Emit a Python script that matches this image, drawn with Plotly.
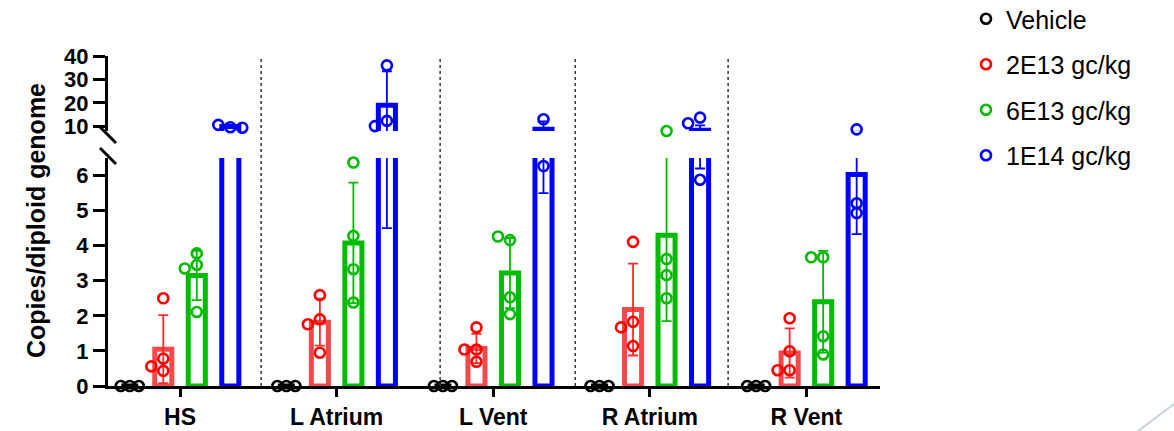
import plotly.graph_objects as go
import numpy as np

# ---------------- data ----------------
categories = ["HS", "L Atrium", "L Vent", "R Atrium", "R Vent"]
series_names = ["Vehicle", "2E13 gc/kg", "6E13 gc/kg", "1E14 gc/kg"]

vehicle_points = [[0, 0, 0], [0, 0, 0], [0, 0, 0], [0, 0, 0], [0, 0, 0]]
vehicle_mean = [0, 0, 0, 0, 0]
vehicle_sd = [0, 0, 0, 0, 0]

low_points = [[2.50, 0.78, 0.43, 0.56],
              [2.59, 1.90, 1.76, 0.95],
              [1.67, 1.04, 1.04, 0.69],
              [4.11, 1.83, 1.67, 1.14],
              [1.93, 0.99, 0.45, 0.45]]
low_mean = [1.05, 1.82, 1.07, 2.18, 0.94]
low_sd = [0.97, 0.67, 0.42, 1.31, 0.70]

mid_points = [[3.78, 3.45, 3.35, 2.11],
              [6.37, 4.28, 3.33, 2.38],
              [4.16, 4.26, 2.53, 2.05],
              [8.00, 3.62, 3.16, 2.50],
              [3.67, 3.67, 1.42, 0.90]]
mid_mean = [3.15, 4.08, 3.22, 4.30, 2.40]
mid_sd = [0.70, 1.72, 1.00, 2.45, 1.45]

high_points = [[9.6, 10.6, 9.4],
               [36.0, 12.3, 10.1],
               [13.0, 7.6, 6.27],
               [13.7, 11.3, 5.88],
               [8.7, 5.21, 4.93]]
high_mean = [9.9, 19.0, 8.8, 8.3, 6.03]
high_sd = [0.6, 14.5, 3.3, 2.1, 1.7]

lower_ticks = [0, 1, 2, 3, 4, 5, 6]
upper_ticks = [10, 20, 30, 40]
divider_x = [0.518, 1.661, 2.524, 3.50]

# ---------------- layout constants ----------------
W, H = 1174, 431
ML, MR, MT, MB = 108, 294, 56, 45
PW, PH = W - ML - MR, H - MT - MB
LOW_RANGE = [0, 6.5]
UP_RANGE = [8, 40]
X_RANGE = [-0.46, 4.47]
low_top_px = 158          # figure pixel of top of lower segment
up_bot_px = 131           # figure pixel of bottom of upper segment
low_dom = [0, (H - MB - low_top_px) / PH]
up_dom = [(H - MB - up_bot_px) / PH, 1]
slot = 0.214
bar_w = 0.109
xpx = PW / (X_RANGE[1] - X_RANGE[0])

styles = [
    dict(pt="#000000", bar="#000000", err="#000000"),
    dict(pt="#FF0000", bar="#F24A4A", err="#FF2A2A"),
    dict(pt="#00BB00", bar="#00BB00", err="#00BB00"),
    dict(pt="#0000FF", bar="#0000FF", err="#0000FF"),
]

pts_all = [vehicle_points, low_points, mid_points, high_points]
mean_all = [vehicle_mean, low_mean, mid_mean, high_mean]
sd_all = [vehicle_sd, low_sd, mid_sd, high_sd]


def to_px(v):
    low_h = low_dom[1] * PH
    if v <= LOW_RANGE[1]:
        return v / LOW_RANGE[1] * low_h
    up_b = up_dom[0] * PH
    up_h = (up_dom[1] - up_dom[0]) * PH
    return up_b + (v - UP_RANGE[0]) / (UP_RANGE[1] - UP_RANGE[0]) * up_h


def swarm(vals, diam=9.0, step=6.0):
    placed, offs = [], []
    for v in vals:
        y = to_px(v)
        chosen = 0
        for c in [0, -step, step, -2 * step, 2 * step]:
            if all((c - a) ** 2 + (y - b) ** 2 >= diam ** 2 for a, b in placed):
                chosen = c
                break
        placed.append((chosen, y))
        offs.append(chosen / xpx)
    return offs


fig = go.Figure()
idx = np.arange(len(categories))

for k, name in enumerate(series_names):
    st = styles[k]
    off = (k - 1.5) * slot
    xs = idx + off
    for ax in ["y", "y2"]:
        fig.add_trace(go.Bar(
            x=xs, y=mean_all[k], width=bar_w, xaxis="x", yaxis=ax,
            marker=dict(color="rgba(0,0,0,0)", line=dict(color=st["bar"], width=5)),
            error_y=dict(type="data", array=sd_all[k], color=st["err"],
                         thickness=1.8, width=5, visible=(k > 0)),
            showlegend=False, legendgroup=name, hoverinfo="skip"))
    lx, ly, ux, uy = [], [], [], []
    step = 4.5 if k == 0 else 6.0
    for i, vals in enumerate(pts_all[k]):
        offs = swarm(vals, step=step, diam=step * 1.5)
        for v, o in zip(vals, offs):
            if v <= LOW_RANGE[1]:
                lx.append(i + off + o); ly.append(v)
            else:
                ux.append(i + off + o); uy.append(v)
    mk = dict(symbol="circle-open", size=10, color=st["pt"], line=dict(width=2.6, color=st["pt"]))
    fig.add_trace(go.Scatter(x=lx, y=ly, mode="markers", marker=mk, name=name,
                             legendgroup=name, xaxis="x", yaxis="y", cliponaxis=False))
    fig.add_trace(go.Scatter(x=ux, y=uy, mode="markers", marker=mk, name=name,
                             legendgroup=name, showlegend=False, xaxis="x", yaxis="y2",
                             cliponaxis=False))

FONT = "Liberation Sans, Arial, sans-serif"
axis_common = dict(showline=True, linecolor="black", linewidth=3, ticks="outside",
                   ticklen=12, tickwidth=3, tickcolor="black", showgrid=False,
                   zeroline=False, tickfont=dict(family=FONT, size=22, color="black", weight="bold"))

fig.update_layout(
    width=W, height=H, margin=dict(l=ML, r=MR, t=MT, b=MB, autoexpand=False),
    paper_bgcolor="white", plot_bgcolor="white", barmode="overlay",
    xaxis=dict(range=X_RANGE, tickvals=list(idx), ticktext=categories, anchor="y",
               showline=True, linecolor="black", linewidth=3, ticks="outside",
               ticklen=8, tickwidth=3, tickcolor="black", showgrid=False, zeroline=False,
               tickfont=dict(family=FONT, size=23, color="black", weight="bold")),
    yaxis=dict(range=LOW_RANGE, domain=low_dom, tickvals=lower_ticks, anchor="x", **axis_common),
    yaxis2=dict(range=UP_RANGE, domain=up_dom, tickvals=upper_ticks, anchor="x", **axis_common),
    legend=dict(x=(966 - ML) / PW, xanchor="left", y=(H - MB + 4) / PH, yanchor="top",
                font=dict(family=FONT, size=25, color="black"), traceorder="grouped",
                tracegroupgap=10, bgcolor="rgba(0,0,0,0)"),
    font=dict(family=FONT, color="black"),
)

fig.add_annotation(text="<b>Copies/diploid genome</b>", xref="paper", yref="paper",
                   x=0, y=0.5, xshift=-72, xanchor="center", yanchor="middle",
                   textangle=-90, showarrow=False,
                   font=dict(family=FONT, size=25, color="black"))

shapes = []
for dx in divider_x:
    shapes.append(dict(type="line", xref="x", yref="paper", x0=dx, x1=dx, y0=0, y1=0.995,
                       line=dict(color="#333333", width=1.5, dash="dot")))
# axis break marks
for py in [up_bot_px + 4, low_top_px - 2]:
    shapes.append(dict(type="line", xref="paper", yref="paper",
                       x0=-8 / PW, x1=8 / PW,
                       y0=(H - MB - (py - 8)) / PH, y1=(H - MB - (py + 8)) / PH,
                       line=dict(color="black", width=3)))
# slide decoration bottom right
shapes.append(dict(type="line", xref="paper", yref="paper",
                   x0=(1138 - ML) / PW, x1=(1174 - ML) / PW,
                   y0=(H - MB - 431) / PH, y1=(H - MB - 404) / PH,
                   line=dict(color="#c8d2dc", width=2)))
fig.update_layout(shapes=shapes)

fig.write_html("out.html", config={"displayModeBar": False},
               post_script="document.body.style.margin='0';document.body.style.overflow='hidden';")
